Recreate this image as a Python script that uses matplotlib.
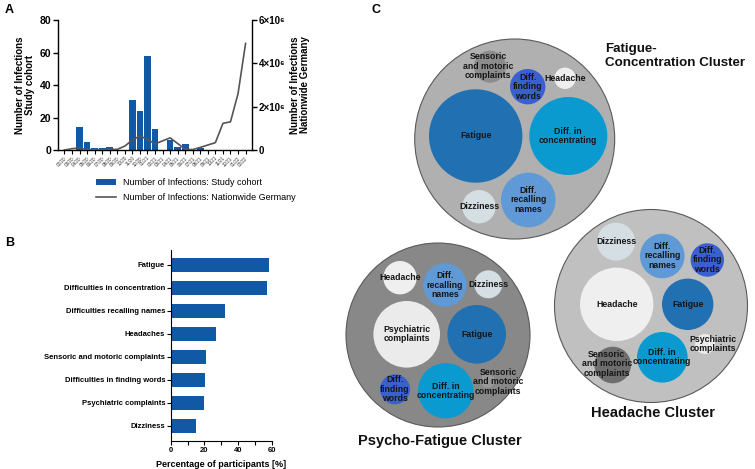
import matplotlib.pyplot as plt
from matplotlib.patches import Circle, Patch
from matplotlib.lines import Line2D

plt.rcParams['font.family'] = ['Liberation Sans', 'DejaVu Sans']

# ---- data ----
months = ["02/20", "03/20", "04/20", "05/20", "06/20", "07/20", "08/20", "09/20", "10/20",
          "11/20", "12/20", "01/21", "02/21", "03/21", "04/21", "05/21", "06/21", "07/21",
          "08/21", "09/21", "10/21", "11/21", "12/21", "01/22", "02/22"]
cohort_infections = [0, 0, 14, 5, 1, 1, 2, 0, 0, 31, 24, 58, 13, 0, 6, 2, 4, 0, 1, 0, 0, 0, 0, 0, 0]
germany_infections = [0, 60000, 95000, 20000, 15000, 15000, 30000, 30000, 180000, 460000,
                      650000, 490000, 280000, 420000, 560000, 300000, 30000, 20000, 120000,
                      230000, 340000, 1230000, 1300000, 2600000, 4920000]

symptoms = ["Fatigue", "Difficulties in concentration", "Difficulties recalling names",
            "Headaches", "Sensoric and motoric complaints", "Difficulties in finding words",
            "Psychiatric complaints", "Dizziness"]
symptom_pct = [58.6, 57.4, 32.5, 27.1, 21.0, 20.6, 20.0, 15.2]

# bubble sizes per cluster (relative)
fc_names = ["Sensoric and motoric complaints", "Diff. finding words", "Headache", "Fatigue",
            "Diff. in concentrating", "Diff. recalling names", "Dizziness"]
fc_sizes = [16, 17.7, 10.7, 46.7, 39, 27.3, 16.7]

pf_names = ["Headache", "Diff. recalling names", "Dizziness", "Psychiatric complaints",
            "Fatigue", "Sensoric and motoric complaints", "Diff. in concentrating",
            "Diff. finding words"]
pf_sizes = [16.7, 21.7, 14, 33.3, 29.3, 7, 27.7, 15]

hc_names = ["Dizziness", "Diff. recalling names", "Diff. finding words", "Headache",
            "Fatigue", "Psychiatric complaints", "Diff. in concentrating",
            "Sensoric and motoric complaints"]
hc_sizes = [19, 22.3, 16.7, 36.7, 25.7, 10, 25.3, 18.3]

# ---- layout / style ----
bar_blue = "#1259a5"
label_text = {
    "Sensoric and motoric complaints": "Sensoric\nand motoric\ncomplaints",
    "Diff. finding words": "Diff.\nfinding\nwords",
    "Diff. in concentrating": "Diff. in\nconcentrating",
    "Diff. recalling names": "Diff.\nrecalling\nnames",
    "Psychiatric complaints": "Psychiatric\ncomplaints",
}
bubble_colors = {
    "Fatigue": "#2070b2", "Diff. in concentrating": "#0b9ad0",
    "Diff. recalling names": "#5f9ad6", "Diff. finding words": "#3a60cf",
    "Dizziness": "#d4dee3", "Headache": "#efefef", "Psychiatric complaints": "#ebebeb",
    "Sensoric and motoric complaints": "#8c8c8c",
}

clusters = [
    dict(names=fc_names, sizes=fc_sizes, center=(514.7, 139), r=100, fill="#b0b0b0",
         sens_color="#8c8c8c",
         pos=[(490, 66.7), (527.7, 86.7), (565, 78.3), (475.7, 136), (568.3, 136),
              (528.3, 200), (479, 206.7)],
         lab_off={"Sensoric and motoric complaints": (-2, -0.5)},
         title="Fatigue-\nConcentration Cluster", tpos=(605, 43), ha="left", va="top",
         tsize=9.6, tls=1.25),
    dict(names=pf_names, sizes=pf_sizes, center=(438, 335), r=92, fill="#888888",
         sens_color="#999999",
         pos=[(400, 277.7), (445, 285), (488.3, 284.3), (406.7, 334.3), (476.7, 334.3),
              (487.7, 380.7), (445.7, 390.7), (395, 389.3)],
         lab_off={"Sensoric and motoric complaints": (10.6, 1)},
         title="Psycho-Fatigue Cluster", tpos=(440, 441), ha="center", va="center",
         tsize=10.5, tls=1.0),
    dict(names=hc_names, sizes=hc_sizes, center=(651, 306), r=96.5, fill="#c0c0c0",
         sens_color="#6e6e6e",
         pos=[(616, 241.7), (662.3, 256), (707.3, 260), (616.7, 304.3), (687.7, 304.3),
              (705, 344), (662.3, 357.3), (612.7, 365)],
         lab_off={"Psychiatric complaints": (7.7, 0),
                  "Sensoric and motoric complaints": (-6, -1)},
         title="Headache Cluster", tpos=(653, 413), ha="center", va="center",
         tsize=10.5, tls=1.0),
]

fig = plt.figure(figsize=(7.55, 4.69), dpi=100)
W, H = 755, 469


def frac_box(x0, y0, x1, y1):
    return [x0 / W, 1 - y1 / H, (x1 - x0) / W, (y1 - y0) / H]


# ---- panel C ----
axc = fig.add_axes([0, 0, 1, 1])
axc.set_xlim(0, W)
axc.set_ylim(H, 0)
axc.axis("off")
for cl in clusters:
    axc.add_patch(Circle(cl["center"], cl["r"], facecolor=cl["fill"],
                         edgecolor="#5a5a5a", lw=0.8, zorder=1))
    for name, size, (cx, cy) in zip(cl["names"], cl["sizes"], cl["pos"]):
        col = bubble_colors[name]
        if name.startswith("Sensoric"):
            col = cl["sens_color"]
        axc.add_patch(Circle((cx, cy), size, facecolor=col, edgecolor="none", zorder=2))
        dx, dy = cl["lab_off"].get(name, (0, 0))
        axc.text(cx + dx, cy + dy, label_text.get(name, name), ha="center", va="center",
                 fontsize=6.3, fontweight="bold", color="#151515", linespacing=1.05, zorder=3)
    axc.text(*cl["tpos"], cl["title"], ha=cl["ha"], va=cl["va"], fontsize=cl["tsize"],
             fontweight="bold", color="#111111", linespacing=cl["tls"])

# ---- panel A ----
axa = fig.add_axes(frac_box(58, 20, 252, 150))
x = list(range(len(months)))
axa.bar(x, cohort_infections, width=0.9, color=bar_blue, zorder=2)
axa.set_xlim(-0.85, len(months) - 0.15)
axa.set_ylim(0, 80)
axa.set_yticks([0, 20, 40, 60, 80])
axa.set_xticks(x)
axa.set_xticklabels(months, rotation=45, ha="right", fontsize=3.3, rotation_mode="anchor",
                    color="#333333")
axa.tick_params(axis="x", length=3, width=0.8, pad=1)
axa.tick_params(axis="y", length=3.5, width=1, labelsize=7.5, pad=1.5)
for lab in axa.get_yticklabels():
    lab.set_fontweight("bold")
axa.set_ylabel("Number of Infections\nStudy cohort", fontsize=7, fontweight="bold",
               labelpad=3, linespacing=1.0)
axa.spines["top"].set_visible(False)
axa.spines["right"].set_visible(False)
for s in ["left", "bottom"]:
    axa.spines[s].set_linewidth(1.0)

axr = axa.twinx()
axr.plot(x, germany_infections, color="#555555", lw=1.2, zorder=3)
axr.set_ylim(0, 6e6)
axr.set_yticks([0, 2e6, 4e6, 6e6])
axr.set_yticklabels(["0", "2×10⁶", "4×10⁶", "6×10⁶"], fontsize=7, fontweight="bold")
axr.tick_params(axis="y", length=3.5, width=1, pad=1.5)
axr.spines["top"].set_visible(False)
axr.spines["left"].set_visible(False)
axr.spines["bottom"].set_visible(False)
axr.spines["right"].set_linewidth(1.0)
axr.set_ylabel("Number of Infections\nNationwide Germany", fontsize=7, fontweight="bold",
               labelpad=3, linespacing=1.0)

handles = [Patch(facecolor=bar_blue), Line2D([], [], color="#555555", lw=1.2)]
fig.legend(handles, ["Number of Infections: Study cohort",
                     "Number of Infections: Nationwide Germany"],
           loc="upper left", bbox_to_anchor=(88 / W, 1 - 170 / H), frameon=False,
           fontsize=6.5, handlelength=2.2, handleheight=0.6, labelspacing=0.6)

# ---- panel B ----
axb = fig.add_axes(frac_box(170.7, 250, 271.7, 440.7))
yb = list(range(len(symptoms)))
axb.barh(yb, symptom_pct, height=0.6, color=bar_blue)
axb.set_xlim(0, 60)
axb.set_ylim(len(symptoms) - 0.35, -0.65)
axb.set_yticks(yb)
axb.set_yticklabels(symptoms, fontsize=5.5, fontweight="bold")
axb.set_xticks([0, 20, 40, 60])
axb.set_xticks([10, 30, 50], minor=True)
axb.tick_params(axis="x", which="both", length=3, width=0.8, labelsize=5.5, pad=1.5)
axb.tick_params(axis="y", length=3, width=0.8, pad=1)
for lab in axb.get_xticklabels():
    lab.set_fontweight("bold")
axb.set_xlabel("Percentage of participants [%]", fontsize=6.5, fontweight="bold", labelpad=4)
axb.spines["top"].set_visible(False)
axb.spines["right"].set_visible(False)

# ---- panel letters ----
fig.text(5 / W, 1 - 10 / H, "A", fontsize=9, fontweight="bold", va="center")
fig.text(5 / W, 1 - 243 / H, "B", fontsize=9, fontweight="bold", va="center")
fig.text(372 / W, 1 - 10 / H, "C", fontsize=9, fontweight="bold", va="center")

fig.savefig("out.png", dpi=100)
